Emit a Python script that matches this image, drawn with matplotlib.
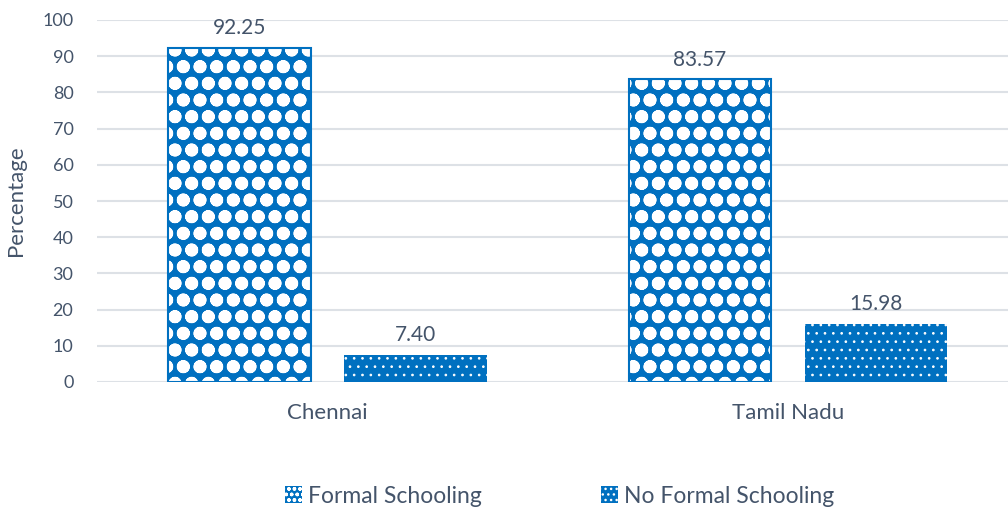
import matplotlib
matplotlib.use("Agg")
import matplotlib.pyplot as plt
import matplotlib.patches as mpatches
import numpy as np

categories = ["Chennai", "Tamil Nadu"]
formal = [92.25, 83.57]
no_formal = [7.40, 15.98]
formal_labels = ["92.25", "83.57"]
no_formal_labels = ["7.40", "15.98"]
series_names = ["Formal Schooling", "No Formal Schooling"]
yticks = [0, 10, 20, 30, 40, 50, 60, 70, 80, 90, 100]

BLUE = "#0070C0"
TXT = "#44546A"
GRID = "#DDE1E6"

plt.rcParams["font.family"] = ["Lato", "DejaVu Sans"]

fig = plt.figure(figsize=(10.08, 5.09), dpi=100)
L = 97 / 1008
B = (509 - 382) / 509
H = (382 - 20) / 509
ax = fig.add_axes([L, B, (1008 - 97) / 1008, H])

x = np.arange(len(categories))
w = 0.31
off = 0.191


def make_bars(vals, pos, face, edge, hatch, hlw, lw):
    with plt.rc_context({"hatch.linewidth": hlw}):
        bars = ax.bar(pos, vals, w, facecolor=face, edgecolor=edge,
                      hatch=hatch, linewidth=lw, zorder=3)
        for b in bars:
            if hasattr(b, "set_hatch_linewidth"):
                b.set_hatch_linewidth(hlw)
    return bars


b1 = make_bars(formal, x - off, BLUE, "white", "o", 4.6, 0)
ax.bar(x - off, formal, w, fill=False, edgecolor=BLUE, linewidth=1.5, zorder=4)
b2 = make_bars(no_formal, x + off, BLUE, "white", "..", 0.7, 0)

for bars, labs in ((b1, formal_labels), (b2, no_formal_labels)):
    for b, t in zip(bars, labs):
        ax.annotate(t, (b.get_x() + b.get_width() / 2, b.get_height()),
                    xytext=(0, 7), textcoords="offset points",
                    ha="center", va="bottom", fontsize=15, color=TXT)

ax.set_ylim(0, 100)
ax.set_xlim(-0.5005, -0.5005 + 911 / 460.5)
ax.set_yticks(yticks)
ax.set_yticklabels([str(v) for v in yticks], fontsize=13, color=TXT)
ax.set_xticks(x)
ax.set_xticklabels(categories, fontsize=16, color=TXT)
ax.tick_params(axis="both", length=0)
ax.tick_params(axis="y", pad=17)
ax.tick_params(axis="x", pad=15)
ax.yaxis.grid(True, color=GRID, linewidth=1.5, zorder=0)
ax.set_axisbelow(True)
for s in ax.spines.values():
    s.set_visible(False)
ax.set_ylabel("Percentage", fontsize=16, color=TXT)
ax.yaxis.set_label_coords(-0.078, 0.5)

with plt.rc_context({"hatch.linewidth": 1.2}):
    h1 = mpatches.Patch(facecolor=BLUE, edgecolor="white", hatch="ooo", linewidth=0)
with plt.rc_context({"hatch.linewidth": 0.7}):
    h2 = mpatches.Patch(facecolor=BLUE, edgecolor="white", hatch="...", linewidth=0)
for h, lw in ((h1, 1.2), (h2, 0.7)):
    if hasattr(h, "set_hatch_linewidth"):
        h.set_hatch_linewidth(lw)
leg = fig.legend([h1, h2], series_names, loc="center", ncol=2,
                 bbox_to_anchor=(0.555, 0.025), frameon=False, fontsize=16.5,
                 handlelength=0.75, handleheight=0.75, handletextpad=0.25,
                 columnspacing=5.2, labelcolor=TXT)

fig.savefig("out.png", dpi=100)
